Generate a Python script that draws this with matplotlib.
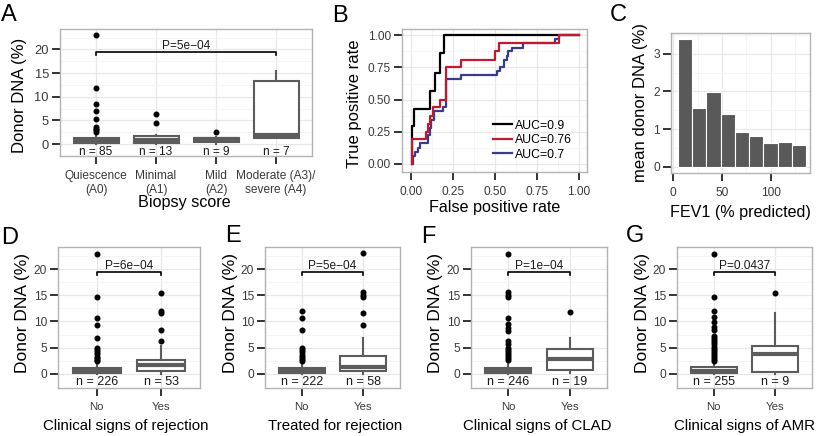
import matplotlib
matplotlib.use('Agg')
import matplotlib.pyplot as plt
from matplotlib.ticker import FixedLocator

plt.rcParams['font.family'] = ['Liberation Sans', 'DejaVu Sans']

# ---------------- data ----------------
# Panel A
a_cats = ["Quiescence\n(A0)", "Minimal\n(A1)", "Mild\n(A2)", "Moderate (A3)/\nsevere (A4)"]
a_n = [85, 13, 9, 7]
a_q1 = [0.2, 0.3, 0.35, 1.3]
a_med = [0.6, 0.8, 1.0, 1.9]
a_q3 = [1.2, 1.8, 1.4, 13.3]
a_wlo = [0.0, 0.0, 0.1, 1.2]
a_whi = [2.3, 2.0, 1.6, 15.5]
a_fliers = [[23.0, 11.9, 8.4, 7.0, 5.4, 3.7, 3.3, 3.0, 2.6], [6.3, 4.4], [2.6], []]
a_p = "P=5e\u221204"

# Panel B (ROC step curves)
roc_black_fpr = [0.005, 0.005, 0.018, 0.018, 0.114, 0.114, 0.144, 0.144, 0.174, 0.174, 0.195, 0.195, 1.0]
roc_black_tpr = [0.0, 0.29, 0.29, 0.43, 0.43, 0.57, 0.57, 0.71, 0.71, 0.86, 0.86, 1.0, 1.0]
roc_red_fpr = [0.005, 0.005, 0.09, 0.09, 0.1, 0.1, 0.115, 0.115, 0.13, 0.13, 0.17, 0.17, 0.205, 0.205,
               0.295, 0.295, 0.5, 0.5, 0.525, 0.525, 0.885, 0.885, 1.0]
roc_red_tpr = [0.0, 0.19, 0.19, 0.25, 0.25, 0.31, 0.31, 0.375, 0.375, 0.44, 0.44, 0.5, 0.5, 0.75,
               0.75, 0.81, 0.81, 0.875, 0.875, 0.94, 0.94, 1.0, 1.0]
roc_blue_fpr = [0.01, 0.01, 0.02, 0.02, 0.04, 0.04, 0.055, 0.055, 0.1, 0.1, 0.11, 0.11, 0.12, 0.12,
                0.135, 0.135, 0.19, 0.19, 0.205, 0.205, 0.295, 0.295, 0.51, 0.51, 0.53, 0.53,
                0.555, 0.555, 0.57, 0.57, 0.58, 0.58, 0.6, 0.6, 0.67, 0.67, 0.86, 0.86, 0.885, 0.885, 1.0]
roc_blue_tpr = [0.0, 0.06, 0.06, 0.09, 0.09, 0.125, 0.125, 0.16, 0.16, 0.22, 0.22, 0.28, 0.28, 0.34,
                0.34, 0.41, 0.41, 0.44, 0.44, 0.66, 0.66, 0.69, 0.69, 0.72, 0.72, 0.75,
                0.75, 0.81, 0.81, 0.84, 0.84, 0.875, 0.875, 0.9, 0.9, 0.94, 0.94, 0.97, 0.97, 1.0, 1.0]
roc_labels = ["AUC=0.9", "AUC=0.76", "AUC=0.7"]

# Panel C
c_fev1 = [11.85, 26.55, 41.25, 55.95, 70.65, 85.35, 100.05, 114.75, 129.45]
c_mean = [3.38, 1.55, 1.99, 1.41, 0.93, 0.81, 0.63, 0.67, 0.57]
c_binwidth = 14.7

# Panels D-G
two_cats = ["No", "Yes"]
d_n = [226, 53]
d_q1 = [0.2, 0.45]; d_med = [0.5, 1.6]; d_q3 = [1.1, 2.7]; d_wlo = [0.0, 0.05]; d_whi = [2.2, 5.3]
d_fliers = [[22.9, 14.7, 10.7, 9.4, 6.9, 4.9, 4.5, 4.1, 3.7, 3.3, 3.0, 2.7, 2.4],
            [15.5, 11.9, 11.7, 8.3, 6.2]]
d_p = "P=6e\u221204"

e_n = [222, 58]
e_q1 = [0.2, 0.45]; e_med = [0.6, 1.4]; e_q3 = [1.2, 3.4]; e_wlo = [0.0, 0.05]; e_whi = [2.2, 6.8]
e_fliers = [[12.0, 10.7, 8.4, 4.9, 4.5, 4.1, 3.6, 3.2, 2.8, 2.4],
            [23.0, 15.6, 15.1, 14.7, 11.7, 9.3]]
e_p = "P=5e\u221204"

f_n = [246, 19]
f_q1 = [0.2, 0.75]; f_med = [0.55, 2.8]; f_q3 = [1.2, 4.7]; f_wlo = [0.0, 0.2]; f_whi = [2.3, 6.8]
f_fliers = [[22.9, 15.6, 15.0, 14.7, 10.7, 9.5, 8.8, 8.2, 6.3, 5.6, 5.0, 4.6, 4.2, 3.8, 3.4, 3.0, 2.6],
            [11.8]]
f_p = "P=1e\u221204"

g_n = [255, 9]
g_q1 = [0.2, 0.4]; g_med = [0.6, 3.8]; g_q3 = [1.4, 5.4]; g_wlo = [0.0, 0.05]; g_whi = [2.3, 11.6]
g_fliers = [[22.9, 14.7, 11.9, 10.9, 9.8, 9.0, 8.4, 7.2, 6.8, 6.4, 6.0, 5.6, 5.2, 4.8, 4.4, 4.0,
             3.6, 3.2, 2.8, 2.5],
            [15.5]]
g_p = "P=0.0437"

# ---------------- styling ----------------
W, H = 823, 436
fig = plt.figure(figsize=(W / 100, H / 100), dpi=100)
BOXC = '#5c5c5c'
TICKC = '#333333'
LBLC = '#3a3a3a'


def add_ax(L, T, R, B):
    return fig.add_axes([L / W, 1 - B / H, (R - L) / W, (B - T) / H])


def px(x, y):
    return x / W, 1 - y / H


def style(ax):
    for s in ax.spines.values():
        s.set_color('#b3b3b3')
        s.set_linewidth(1.0)
    ax.tick_params(which='major', length=5.5, width=1.4, color=TICKC, labelsize=8.6,
                   labelcolor=LBLC, pad=2.5)
    ax.tick_params(axis='x', which='major', pad=4.5)
    ax.tick_params(which='minor', length=0)
    ax.grid(which='major', color='#e8e8e8', lw=0.9)
    ax.grid(which='minor', color='#f4f4f4', lw=0.6)
    ax.set_axisbelow(True)


def boxpanel(ax, cats, ns, q1, med, q3, wlo, whi, fliers, ptext, ylim, nsize):
    stats = [dict(q1=a, med=b, q3=c, whislo=d, whishi=e, fliers=f)
             for a, b, c, d, e, f in zip(q1, med, q3, wlo, whi, fliers)]
    pos = list(range(1, len(cats) + 1))
    ax.bxp(stats, positions=pos, widths=0.75, showcaps=False, patch_artist=True,
           boxprops=dict(facecolor='white', edgecolor=BOXC, linewidth=1.5),
           medianprops=dict(color=BOXC, linewidth=3.0, solid_capstyle='butt'),
           whiskerprops=dict(color=BOXC, linewidth=1.5),
           flierprops=dict(marker='o', markerfacecolor='black', markeredgecolor='black',
                           markersize=3.3, linestyle='none'))
    ax.set_xlim(0.4, len(cats) + 0.6)
    ax.set_ylim(*ylim)
    ax.set_xticks(pos)
    ax.set_xticklabels(cats)
    ax.yaxis.set_major_locator(FixedLocator([0, 5, 10, 15, 20]))
    ax.yaxis.set_minor_locator(FixedLocator([2.5, 7.5, 12.5, 17.5, 22.5]))
    for p, n in zip(pos, ns):
        ax.text(p, -1.6, f"n = {n}", ha='center', va='center', fontsize=nsize, color='#1a1a1a')
    yb = 19.4
    ax.plot([pos[0], pos[0], pos[-1], pos[-1]], [yb - 0.5, yb, yb, yb - 0.5], color='black', lw=1.2)
    ax.text((pos[0] + pos[-1]) / 2, yb + 0.05, ptext, ha='center', va='bottom', fontsize=8.6,
            color='#1a1a1a')
    style(ax)


# ---------------- Panel A ----------------
axA = add_ax(60, 29, 312, 156)
boxpanel(axA, a_cats, a_n, a_q1, a_med, a_q3, a_wlo, a_whi, a_fliers, a_p, (-2.5, 24.3), 8.6)
axA.tick_params(axis='y', labelsize=9.3)
fig.text(*px(184, 203), "Biopsy score", ha='center', va='center', fontsize=11.6)
fig.text(*px(20, 95), "Donor DNA (%)", rotation=90, ha='center', va='center', fontsize=12)

# ---------------- Panel B ----------------
axB = add_ax(402, 29, 587, 172)
lb, = axB.plot(roc_black_fpr, roc_black_tpr, color='black', lw=1.6)
lu, = axB.plot(roc_blue_fpr, roc_blue_tpr, color='#3b3b8e', lw=1.6)
lr, = axB.plot(roc_red_fpr, roc_red_tpr, color='#bf1a2f', lw=1.6)
axB.set_xlim(-0.055, 1.05)
axB.set_ylim(-0.065, 1.05)
ticksB = [0, 0.25, 0.5, 0.75, 1.0]
axB.set_xticks(ticksB)
axB.set_xticklabels([f"{t:.2f}" for t in ticksB])
axB.set_yticks(ticksB)
axB.set_yticklabels([f"{t:.2f}" for t in ticksB])
axB.xaxis.set_minor_locator(FixedLocator([0.125, 0.375, 0.625, 0.875]))
axB.yaxis.set_minor_locator(FixedLocator([0.125, 0.375, 0.625, 0.875]))
style(axB)
axB.legend([lb, lr, lu], roc_labels, loc='lower left', bbox_to_anchor=(0.49, 0.08),
           frameon=False, fontsize=8.8, handlelength=1.55, handletextpad=0.3,
           labelspacing=0.2, borderpad=0, borderaxespad=0)
fig.text(*px(495, 207), "False positive rate", ha='center', va='center', fontsize=11.6)
fig.text(*px(355, 104), "True positive rate", rotation=90, ha='center', va='center', fontsize=12)

# ---------------- Panel C ----------------
axC = add_ax(671, 33, 810, 173)
axC.bar(c_fev1, c_mean, width=c_binwidth, color='#595959', edgecolor='white', linewidth=0.8)
axC.set_xlim(-2.3, 140.5)
axC.set_ylim(-0.16, 3.55)
axC.set_xticks([0, 50, 100])
axC.set_yticks([0, 1, 2, 3])
axC.xaxis.set_minor_locator(FixedLocator([25, 75, 125]))
axC.yaxis.set_minor_locator(FixedLocator([0.5, 1.5, 2.5, 3.5]))
style(axC)
fig.text(*px(740, 212), "FEV1 (% predicted)", ha='center', va='center', fontsize=11.6)
fig.text(*px(641, 182), "mean donor DNA (%)", rotation=90, ha='center', va='bottom', fontsize=12)

# ---------------- Panels D-G ----------------
panels = [
    ("D", (58, 247, 200, 388), d_n, d_q1, d_med, d_q3, d_wlo, d_whi, d_fliers, d_p,
     "Clinical signs of rejection", 126),
    ("E", (265, 247, 400, 388), e_n, e_q1, e_med, e_q3, e_wlo, e_whi, e_fliers, e_p,
     "Treated for rejection", 335),
    ("F", (471, 247, 607, 388), f_n, f_q1, f_med, f_q3, f_wlo, f_whi, f_fliers, f_p,
     "Clinical signs of CLAD", 537),
    ("G", (677, 247, 812, 388), g_n, g_q1, g_med, g_q3, g_wlo, g_whi, g_fliers, g_p,
     "Clinical signs of AMR", 744),
]
for letter, box, ns, q1, med, q3, wlo, whi, fl, ptext, xlabel, xlc in panels:
    ax = add_ax(*box)
    boxpanel(ax, two_cats, ns, q1, med, q3, wlo, whi, fl, ptext, (-2.7, 24.2), 9.0)
    ax.tick_params(axis='x', labelsize=8.2)
    L = box[0]
    fig.text(*px(xlc, 426), xlabel, ha='center', va='center', fontsize=10.8)
    fig.text(*px(L - 35, 313), "Donor DNA (%)", rotation=90, ha='center', va='center',
             fontsize=12.5)

# ---------------- panel letters ----------------
letters = [("A", 1, 4), ("B", 332, 5), ("C", 610, 4), ("D", 1, 227), ("E", 225, 225),
           ("F", 421, 226), ("G", 626, 225)]
for t, x, y in letters:
    fig.text(*px(x, y), t, ha='left', va='top', fontsize=17)

fig.savefig('out.png', dpi=100)
